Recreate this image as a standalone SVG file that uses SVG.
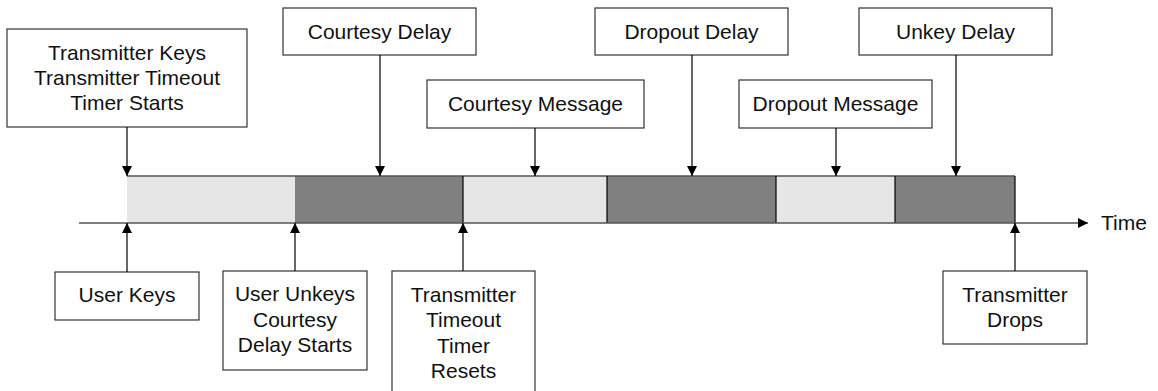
<svg xmlns="http://www.w3.org/2000/svg" width="1158" height="391" viewBox="0 0 1158 391">
  <style>
    .box { fill: #ffffff; stroke: #333333; stroke-width: 1.2; }
    .lbl { font-family: "Liberation Sans", Arial, sans-serif; font-size: 21px; fill: #111111; text-anchor: middle; }
    .light { fill: #e6e6e6; }
    .dark { fill: #808080; }
    .edge { stroke: #000000; stroke-width: 1.2; fill: none; }
    .axis { stroke: #555555; stroke-width: 1.5; fill: none; }
  </style>
  <defs>
    <marker id="head" viewBox="0 0 10 10" refX="10" refY="5" markerWidth="10" markerHeight="10" markerUnits="userSpaceOnUse" orient="auto">
      <path d="M0,0 L10,5 L0,10 Z" fill="#000000"/>
    </marker>
  </defs>

  <!-- timeline segments -->
  <g id="timeline">
    <rect class="light" x="127" y="176" width="168" height="47"/>
    <rect class="dark" x="295" y="176" width="168" height="47"/>
    <rect class="light" x="463" y="176" width="144" height="47"/>
    <rect class="dark" x="607" y="176" width="169" height="47"/>
    <rect class="light" x="776" y="176" width="119" height="47"/>
    <rect class="dark" x="895" y="176" width="120" height="47"/>
    <line x1="127" y1="176" x2="1015" y2="176" stroke="#555555" stroke-width="1.5"/>
    <g stroke="#000000" stroke-width="1.2">
      <line x1="463" y1="176" x2="463" y2="223"/>
      <line x1="607" y1="176" x2="607" y2="223"/>
      <line x1="776" y1="176" x2="776" y2="223"/>
      <line x1="895" y1="176" x2="895" y2="223"/>
      <line x1="1015" y1="176" x2="1015" y2="223"/>
    </g>
    <line class="axis" x1="79" y1="223" x2="1088" y2="223" marker-end="url(#head)"/>
    <text class="lbl" x="1101" y="230" text-anchor="start" style="text-anchor:start">Time</text>
  </g>

  <!-- events above the timeline -->
  <g id="tx-keys">
    <rect class="box" x="7" y="29" width="240" height="98"/>
    <text class="lbl" x="127" y="60">Transmitter Keys</text>
    <text class="lbl" x="127" y="85">Transmitter Timeout</text>
    <text class="lbl" x="127" y="110">Timer Starts</text>
  </g>
  <g id="courtesy-delay">
    <rect class="box" x="283" y="8" width="193" height="47"/>
    <text class="lbl" x="379.5" y="39">Courtesy Delay</text>
  </g>
  <g id="courtesy-message">
    <rect class="box" x="427" y="80" width="217" height="48"/>
    <text class="lbl" x="535.5" y="111">Courtesy Message</text>
  </g>
  <g id="dropout-delay">
    <rect class="box" x="595" y="8" width="193" height="47"/>
    <text class="lbl" x="691.5" y="39">Dropout Delay</text>
  </g>
  <g id="dropout-message">
    <rect class="box" x="739" y="80" width="193" height="48"/>
    <text class="lbl" x="835.5" y="111">Dropout Message</text>
  </g>
  <g id="unkey-delay">
    <rect class="box" x="859" y="8" width="193" height="47"/>
    <text class="lbl" x="955.5" y="39">Unkey Delay</text>
  </g>

  <!-- events below the timeline -->
  <g id="user-keys">
    <rect class="box" x="55" y="272" width="144" height="48"/>
    <text class="lbl" x="127" y="302">User Keys</text>
  </g>
  <g id="user-unkeys">
    <rect class="box" x="223" y="271" width="144" height="99"/>
    <text class="lbl" x="295" y="301">User Unkeys</text>
    <text class="lbl" x="295" y="327">Courtesy</text>
    <text class="lbl" x="295" y="352">Delay Starts</text>
  </g>
  <g id="timer-resets">
    <rect class="box" x="392" y="271" width="143" height="125"/>
    <text class="lbl" x="463.5" y="302">Transmitter</text>
    <text class="lbl" x="463.5" y="327">Timeout</text>
    <text class="lbl" x="463.5" y="353">Timer</text>
    <text class="lbl" x="463.5" y="378">Resets</text>
  </g>
  <g id="tx-drops">
    <rect class="box" x="943" y="271" width="144" height="73"/>
    <text class="lbl" x="1015" y="302">Transmitter</text>
    <text class="lbl" x="1015" y="327">Drops</text>
  </g>

  <!-- connectors -->
  <g id="connectors">
    <line class="edge" x1="127" y1="127" x2="127" y2="176" marker-end="url(#head)"/>
    <line class="edge" x1="380" y1="55" x2="380" y2="176" marker-end="url(#head)"/>
    <line class="edge" x1="535" y1="128" x2="535" y2="176" marker-end="url(#head)"/>
    <line class="edge" x1="692" y1="55" x2="692" y2="176" marker-end="url(#head)"/>
    <line class="edge" x1="836" y1="128" x2="836" y2="176" marker-end="url(#head)"/>
    <line class="edge" x1="956" y1="55" x2="956" y2="176" marker-end="url(#head)"/>
    <line class="edge" x1="127" y1="272" x2="127" y2="223" marker-end="url(#head)"/>
    <line class="edge" x1="295" y1="271" x2="295" y2="223" marker-end="url(#head)"/>
    <line class="edge" x1="463" y1="271" x2="463" y2="223" marker-end="url(#head)"/>
    <line class="edge" x1="1015" y1="271" x2="1015" y2="223" marker-end="url(#head)"/>
  </g>
</svg>
